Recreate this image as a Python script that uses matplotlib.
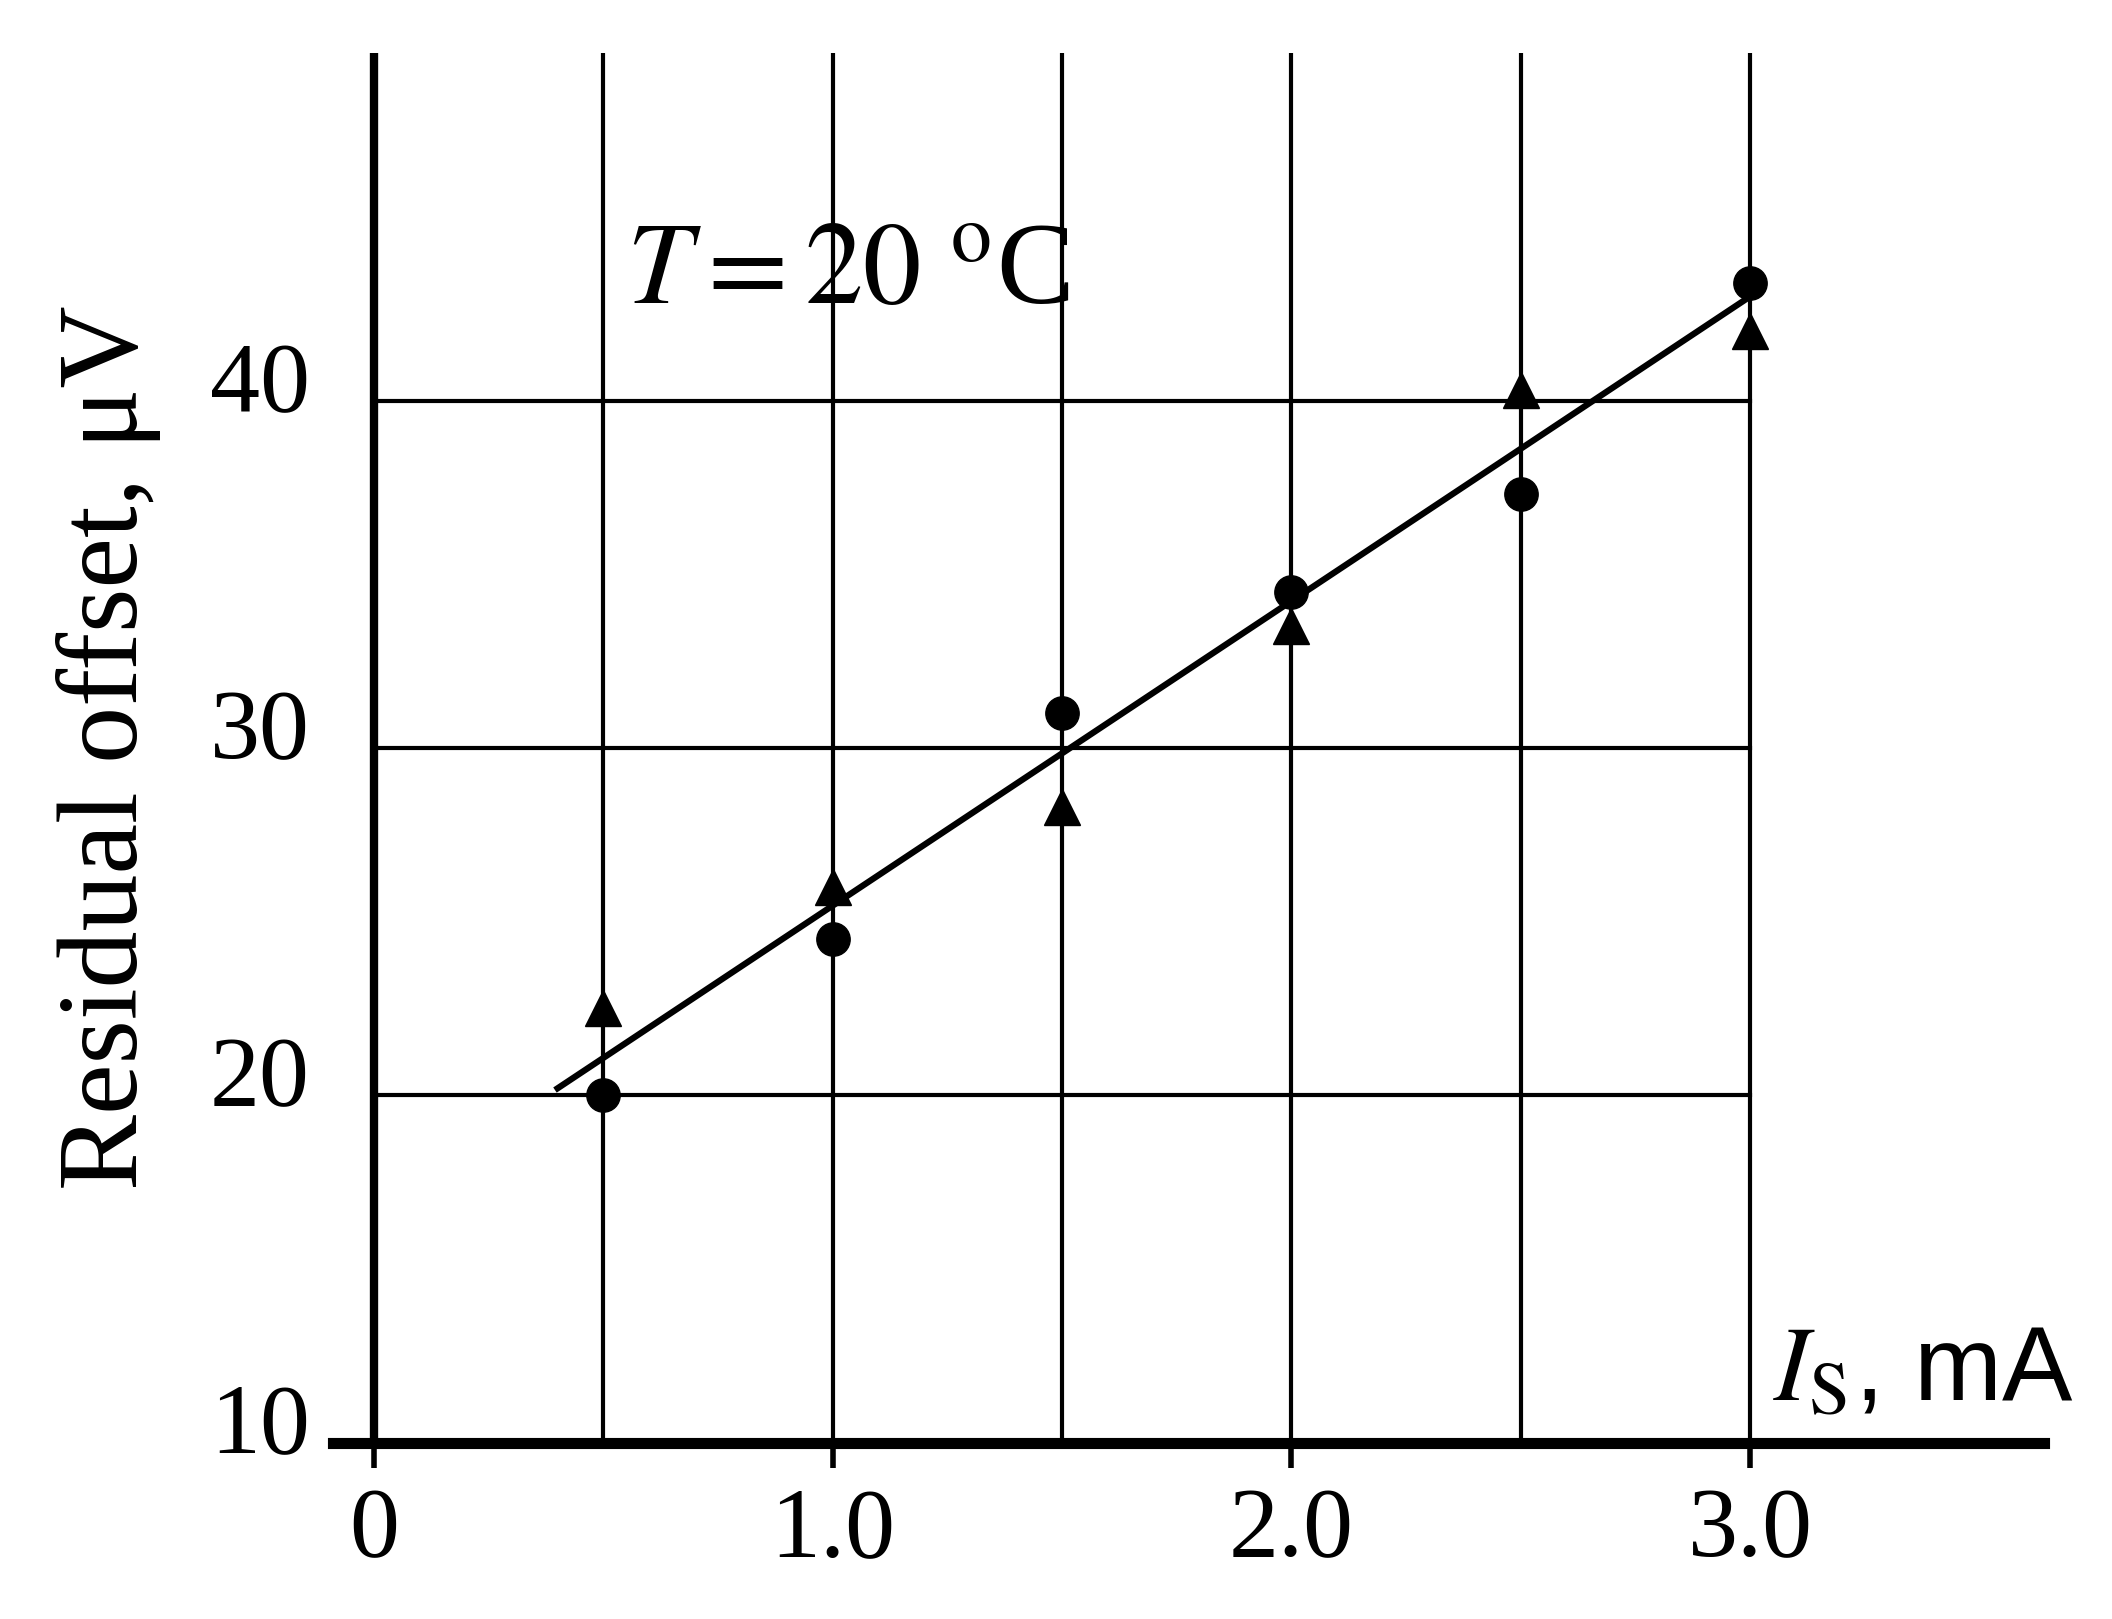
import matplotlib.pyplot as plt

current = [0.5, 1.0, 1.5, 2.0, 2.5, 3.0]
offset_circles = [20.0, 24.5, 31.0, 34.5, 37.3, 43.4]
offset_triangles = [22.5, 26.0, 28.3, 33.5, 40.3, 42.0]
fit_x = [0.4, 3.0]
fit_y = [20.2, 43.0]
x_ticks = [0, 1.0, 2.0, 3.0]
x_labels = ['0', '1.0', '2.0', '3.0']
y_ticks = [10, 20, 30, 40]

plt.rcParams['font.family'] = ['Liberation Serif', 'DejaVu Serif']
plt.rcParams['mathtext.fontset'] = 'stix'

fig = plt.figure(figsize=(21.12, 16.19), dpi=100)
ax = fig.add_axes([0.1576, 0.109, 0.81, 0.858])
ax.set_xlim(-0.09, 3.64)
ax.set_ylim(10, 50)

# grid (only within the 0..3.0 / 10..50 box)
for x in [0.5, 1.0, 1.5, 2.0, 2.5, 3.0]:
    ax.plot([x, x], [10, 50], color='black', lw=3, zorder=1)
for y in [20, 30, 40]:
    ax.plot([0, 3.0], [y, y], color='black', lw=3, zorder=1)
ax.plot([0, 0], [10, 50], color='black', lw=6, zorder=2)

ax.plot(fit_x, fit_y, color='black', lw=4.5, zorder=3)
ax.plot(current, offset_circles, 'o', color='black', ms=24, zorder=4)
ax.plot(current, offset_triangles, '^', color='black', ms=26, zorder=4)

for s in ['top', 'right', 'left']:
    ax.spines[s].set_visible(False)
ax.spines['bottom'].set_linewidth(8)
ax.set_xticks(x_ticks)
ax.set_xticklabels(x_labels, fontsize=72)
ax.tick_params(axis='x', length=18, width=4, pad=14)
ax.set_yticks([])
for y in y_ticks:
    ax.text(-0.14, y + 0.4, str(y), fontsize=72, ha='right', va='center')

ax.text(-0.58, 30, 'Residual offset, μV', fontsize=82, rotation=90,
        ha='center', va='center')
ax.text(0.55, 43.6, r'$T = 20\ ^{\rm o}$C', fontsize=84, va='center')
ax.text(3.05, 12.0, r'$I_{\rm S}$, mA', fontsize=76, va='center',
        family=['Liberation Sans', 'DejaVu Sans'])

fig.savefig('out.png', dpi=100)
